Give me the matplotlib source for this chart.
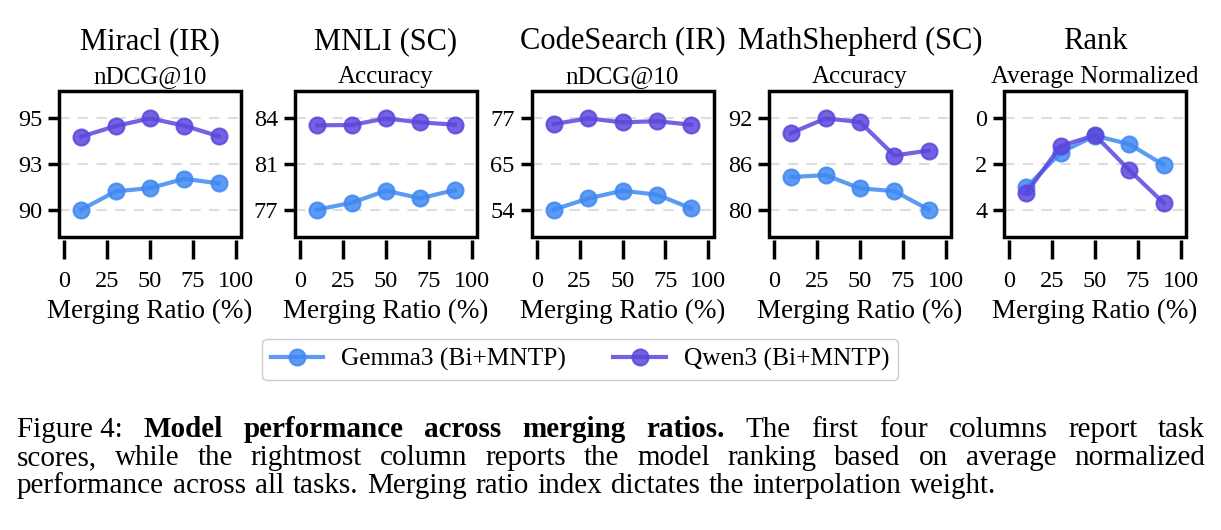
import matplotlib
matplotlib.use('Agg')
import matplotlib.pyplot as plt
from matplotlib.patches import Rectangle

plt.rcParams['font.family'] = ['Liberation Serif', 'DejaVu Serif']

# Data
ratios = [10, 30, 50, 70, 90]

miracl_gemma = [90.0, 91.0, 91.18, 91.69, 91.44]
miracl_qwen = [94.0, 94.58, 95.0, 94.6, 94.02]
mnli_gemma = [77.0, 77.53, 78.45, 77.87, 78.5]
mnli_qwen = [83.47, 83.49, 84.0, 83.69, 83.52]
code_gemma = [54.0, 56.8, 58.75, 57.75, 54.33]
code_qwen = [75.48, 76.9, 75.9, 76.2, 75.3]
math_gemma = [84.28, 84.54, 82.79, 82.44, 80.0]
math_qwen = [90.08, 92.0, 91.52, 87.11, 87.77]
rank_gemma = [3.03, 1.5, 0.76, 1.13, 2.04]
rank_qwen = [3.27, 1.21, 0.74, 2.27, 3.71]

titles = ['Miracl (IR)', 'MNLI (SC)', 'CodeSearch (IR)', 'MathShepherd (SC)', 'Rank']
subtitles = ['nDCG@10', 'Accuracy', 'nDCG@10', 'Accuracy', 'Average Normalized']
ytick_labels = [['90', '93', '95'], ['77', '81', '84'], ['54', '65', '77'],
                ['80', '86', '92'], ['0', '2', '4']]
rank_ticks = [0, 2, 4]
xticks = [0, 25, 50, 75, 100]
model_names = ['Gemma3 (Bi+MNTP)', 'Qwen3 (Bi+MNTP)']

gemma_all = [miracl_gemma, mnli_gemma, code_gemma, math_gemma, rank_gemma]
qwen_all = [miracl_qwen, mnli_qwen, code_qwen, math_qwen, rank_qwen]

c_gemma = '#3f88f2'
c_qwen = '#5a47dc'

W, H = 1221, 530
fig = plt.figure(figsize=(W / 100, H / 100), dpi=100)

lefts = [59, 295, 531.5, 769, 1004]
axw, axh = 182, 146
top = 91

axes = []
for i in range(5):
    ax = fig.add_axes([lefts[i] / W, (H - top - axh) / H, axw / W, axh / H])
    axes.append(ax)
    g = gemma_all[i]
    q = qwen_all[i]
    for vals, col, name in [(g, c_gemma, model_names[0]), (q, c_qwen, model_names[1])]:
        ax.plot(ratios, vals, '-o', color=col, lw=3, ms=11.5, mew=1.5, mec=col,
                alpha=0.85, label=name, zorder=3)

    if i == 4:
        lo, hi = rank_ticks[0], rank_ticks[-1]
        ticks = rank_ticks
    else:
        lo = min(g + q)
        hi = max(g + q)
        ticks = [lo, (lo + hi) / 2, hi]
    r = hi - lo
    ax.set_ylim(lo - 0.3 * r, hi + 0.3 * r)
    if i == 4:
        ax.invert_yaxis()
    ax.set_yticks(ticks)
    ax.set_yticklabels(ytick_labels[i])
    for t in ticks:
        ax.axhline(t, color='#dddddd', lw=1.5, ls=(0, (5, 4)), zorder=1)

    ax.set_xlim(-3, 103)
    ax.set_xticks(xticks)
    ax.tick_params(axis='y', length=8, width=2.5, labelsize=17.5, pad=4)
    ax.tick_params(axis='x', length=14, width=2.5, labelsize=17.5, pad=8)

    # frame drawn separately so the x ticks sit slightly below it
    for s in ax.spines.values():
        s.set_visible(False)
    ax.spines['bottom'].set_position(('outward', 2.5))
    ax.add_patch(Rectangle((0, 0), 1, 1, transform=ax.transAxes, fill=False,
                           lw=2.5, edgecolor='black', clip_on=False, zorder=5))

    ax.set_xlabel('Merging Ratio (%)', fontsize=19.5, labelpad=5)
    ax.set_title(subtitles[i], fontsize=18, pad=6)
    ax.text(0.5, 1.34, titles[i], transform=ax.transAxes, ha='center', va='center',
            fontsize=22)

handles, labels = axes[0].get_legend_handles_labels()
fig.legend(handles, labels, loc='center', bbox_to_anchor=(580 / W, 1 - 359.5 / H),
           ncol=2, fontsize=18.3, frameon=True, fancybox=True, edgecolor='#cccccc',
           handlelength=2.05, handletextpad=0.72, columnspacing=1.87,
           borderpad=0.34, framealpha=1)

# caption, justified like the LaTeX source
cap_size = 21
renderer = fig.canvas.get_renderer()


def caption_line(y, words, x0, x1=None):
    texts = [fig.text(0, 1 - y / H, w, fontsize=cap_size, fontweight=wt, va='baseline')
             for w, wt in words]
    widths = [t.get_window_extent(renderer).width for t in texts]
    if x1 is None:
        space = cap_size * 100 / 72 * 0.3
    else:
        space = (x1 - x0 - sum(widths)) / (len(words) - 1)
    x = x0
    for t, w in zip(texts, widths):
        t.set_x(x / W)
        x += w + space


line1 = [('Figure 4:', 'normal')] + \
        [(w, 'bold') for w in 'Model performance across merging ratios.'.split()] + \
        [(w, 'normal') for w in 'The first four columns report task'.split()]
line2 = [(w, 'normal') for w in
         'scores, while the rightmost column reports the model ranking based on average normalized'.split()]
line3 = [(w, 'normal') for w in
         'performance across all tasks. Merging ratio index dictates the interpolation weight.'.split()]

caption_line(437, line1, 17, 1205)
caption_line(465, line2, 17, 1205)
caption_line(493, line3, 17)

fig.savefig('out.png', dpi=100)
